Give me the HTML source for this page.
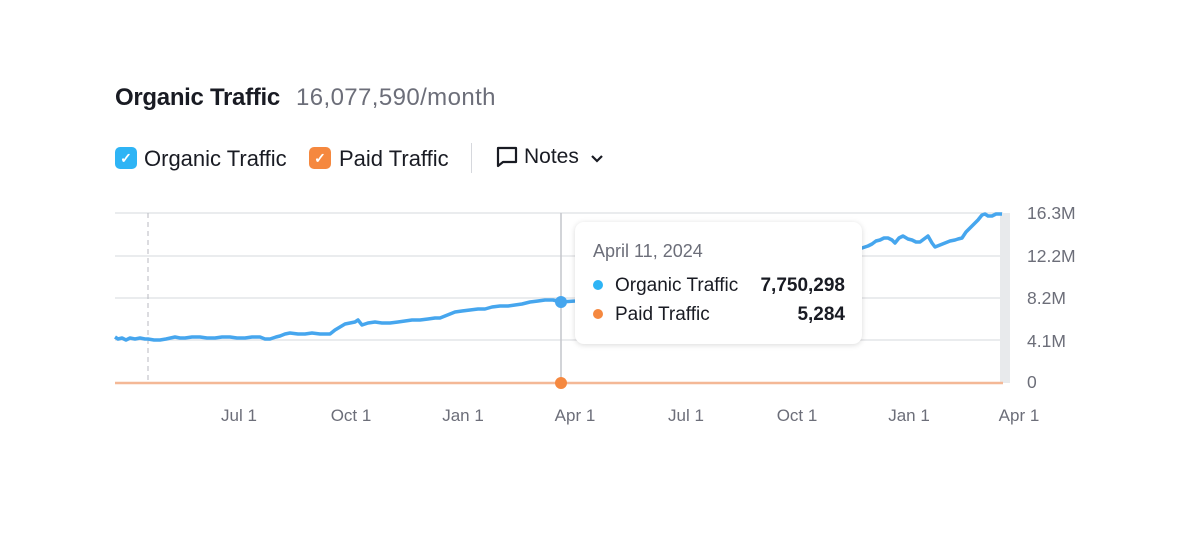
<!DOCTYPE html>
<html><head><style>
body{margin:0;width:1200px;height:538px;background:#fff;font-family:"Liberation Sans",sans-serif;position:relative;overflow:hidden}
.a{position:absolute;white-space:nowrap}
.cb{position:absolute;width:22px;height:22px;border-radius:5px;color:#fff;font-size:14px;text-align:center;line-height:22px;font-weight:bold}
.yl{position:absolute;left:1027px;font-size:17.5px;color:#6c6e79}
.xl{position:absolute;top:406px;font-size:17px;color:#6c6e79;transform:translateX(-50%)}
</style></head><body>
<div class="a" style="left:115px;top:84px;font-size:24px;font-weight:bold;color:#191b23;letter-spacing:-0.3px">Organic Traffic</div>
<div class="a" style="left:296px;top:84px;font-size:24px;color:#6c6e79;letter-spacing:0.4px">16,077,590/month</div>
<div class="cb" style="left:115px;top:147px;background:#2eb4f5">✓</div>
<div class="a" style="left:144px;top:146px;font-size:22px;color:#191b23">Organic Traffic</div>
<div class="cb" style="left:309px;top:147px;background:#f5883f">✓</div>
<div class="a" style="left:339px;top:146px;font-size:22px;color:#191b23">Paid Traffic</div>
<div class="a" style="left:471px;top:143px;width:1px;height:30px;background:#d6d8dd"></div>
<svg class="a" style="left:496px;top:146px" width="22" height="22" viewBox="0 0 22 22"><path d="M2 2h18v14H7l-5 4z" fill="none" stroke="#191b23" stroke-width="2.2" stroke-linejoin="round"/></svg>
<div class="a" style="left:524px;top:145px;font-size:21px;color:#191b23">Notes</div>
<svg class="a" style="left:590px;top:154px" width="14" height="10"><path d="M2 2l5 5 5-5" fill="none" stroke="#191b23" stroke-width="2.2"/></svg>
<svg class="a" style="left:0;top:0" width="1200" height="538">
<g stroke="#e4e5e8" stroke-width="1.5"><line x1="115" x2="1003" y1="213" y2="213"/><line x1="115" x2="1003" y1="256" y2="256"/><line x1="115" x2="1003" y1="298" y2="298"/><line x1="115" x2="1003" y1="340" y2="340"/></g>
<rect x="1000" y="213" width="10" height="170" fill="#e8eaec"/>
<line x1="148" x2="148" y1="213" y2="383" stroke="#b8bac0" stroke-dasharray="5,4"/>
<line x1="561" x2="561" y1="213" y2="383" stroke="#c4c6cb" stroke-width="1.5"/>
<line x1="115" x2="1003" y1="383" y2="383" stroke="#f4b896" stroke-width="2.5"/>
<polyline fill="none" stroke="#46a6ee" stroke-width="3.5" stroke-linejoin="round" points="115,337 118,339 122,338 126,340 130,338 135,339 140,338 145,339 148,339 154,340 160,340 166,339 175,337 180,338 185,338 192,337 200,337 207,338 215,338 222,337 230,337 237,338 245,338 252,337 260,337 265,339 270,339 276,337 280,336 285,334 290,333 298,334 305,334 312,333 320,334 330,334 335,330 340,327 345,324 350,323 355,322 358,320 362,325 368,323 375,322 382,323 390,323 398,322 405,321 412,320 420,320 428,319 435,318 440,318 445,316 450,314 455,312 462,311 470,310 478,309 485,309 492,307 500,306 508,306 515,305 522,304 530,302 538,301 545,300 553,300 561,302 575,301 600,297 650,290 700,282 750,273 800,265 850,252 862,248 868,246 872,244 876,241 880,240 884,238 888,238 892,240 895,243 899,238 903,236 908,239 912,240 916,242 920,242 924,239 928,236 932,243 935,247 940,245 945,243 950,241 955,240 958,239 962,238 966,232 970,228 974,224 978,220 982,215 985,214 988,216 992,216 996,214 1002,214"/>
<circle cx="561" cy="302" r="6" fill="#46a6ee"/>
<circle cx="561" cy="383" r="6" fill="#f5883f"/>
</svg>
<div class="a" style="left:575px;top:222px;width:287px;height:122px;background:#fff;border-radius:9px;box-shadow:0 1px 6px rgba(0,0,0,0.15)">
<div class="a" style="left:18px;top:19px;font-size:18px;color:#6c6e79">April 11, 2024</div>
<div class="a" style="left:18px;top:58px;width:10px;height:10px;border-radius:5px;background:#2eb4f5"></div>
<div class="a" style="left:40px;top:53px;font-size:19px;color:#191b23">Organic Traffic</div>
<div class="a" style="right:17px;top:53px;font-size:19px;font-weight:bold;color:#191b23">7,750,298</div>
<div class="a" style="left:18px;top:87px;width:10px;height:10px;border-radius:5px;background:#f5883f"></div>
<div class="a" style="left:40px;top:82px;font-size:19px;color:#191b23">Paid Traffic</div>
<div class="a" style="right:17px;top:82px;font-size:19px;font-weight:bold;color:#191b23">5,284</div>
</div>
<div class="yl" style="top:203px">16.3M</div>
<div class="yl" style="top:246px">12.2M</div>
<div class="yl" style="top:288px">8.2M</div>
<div class="yl" style="top:331px">4.1M</div>
<div class="yl" style="top:372px">0</div>
<div class="xl" style="left:239px">Jul 1</div>
<div class="xl" style="left:351px">Oct 1</div>
<div class="xl" style="left:463px">Jan 1</div>
<div class="xl" style="left:575px">Apr 1</div>
<div class="xl" style="left:686px">Jul 1</div>
<div class="xl" style="left:797px">Oct 1</div>
<div class="xl" style="left:909px">Jan 1</div>
<div class="xl" style="left:1019px">Apr 1</div>
</body></html>
